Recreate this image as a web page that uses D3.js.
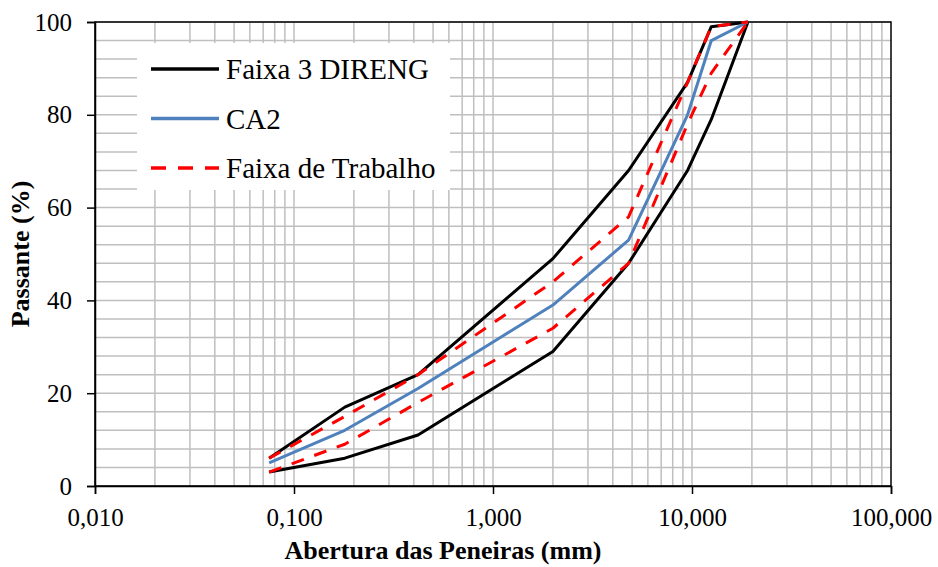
<!DOCTYPE html>
<html>
<head>
<meta charset="utf-8">
<script src="https://cdn.jsdelivr.net/npm/d3@7"></script>
<style>
  html, body { margin: 0; padding: 0; background: #fff; }
  svg { display: block; }
  text { font-family: "Liberation Serif", "Times New Roman", serif; fill: #000; }
</style>
</head>
<body>
<svg id="chart" width="938" height="567"></svg>
<script>
// Sieve openings (mm) and percent passing for each gradation curve
const sieves = [0.075, 0.18, 0.42, 2.0, 4.8, 9.5, 12.5, 19.1];
const direngUpper = [6, 17, 24, 49, 68, 87, 99, 100];
const direngLower = [3, 6, 11, 29, 48, 68, 79, 100];
const ca2 = [5, 12, 21, 39, 53, 80, 96, 100];
const trabalhoUpper = [6, 15, 24, 44, 58, 87, 99, 100];
const trabalhoLower = [3, 9, 18, 34, 48, 78, 89, 100];

const xTicks = [0.01, 0.1, 1, 10, 100];
const yTicks = [0, 20, 40, 60, 80, 100];
const legendLabels = ["Faixa 3 DIRENG", "CA2", "Faixa de Trabalho"];

const svg = d3.select("#chart");
const plotL = 95, plotR = 891, plotT = 22, plotB = 486;

const x = d3.scaleLog().domain([0.01, 100]).range([plotL, plotR]);
const y = d3.scaleLinear().domain([0, 100]).range([plotB, plotT]);

const ptLocale = d3.formatLocale({ decimal: ",", thousands: ".", grouping: [3], currency: ["", ""] });
const fmt = ptLocale.format(".3f");

// Grid: every log sub-division vertically, every 4 % horizontally
const gridX = [];
for (let e = -2; e < 2; e++) {
  for (let m = 1; m <= 9; m++) gridX.push(m * Math.pow(10, e));
}
const gridY = d3.range(0, 101, 4);

const grid = svg.append("g").attr("stroke", "#bfbfbf").attr("stroke-width", 1.5);
grid.selectAll("line.gx").data(gridX).join("line")
  .attr("x1", d => x(d)).attr("x2", d => x(d))
  .attr("y1", plotT).attr("y2", plotB);
grid.selectAll("line.gy").data(gridY).join("line")
  .attr("x1", plotL).attr("x2", plotR)
  .attr("y1", d => y(d)).attr("y2", d => y(d));

// Legend background sits over the grid
svg.append("rect")
  .attr("x", 137).attr("y", 43).attr("width", 313).attr("height", 147)
  .attr("fill", "#fff");

// Plot frame
svg.append("rect")
  .attr("x", plotL).attr("y", plotT)
  .attr("width", plotR - plotL).attr("height", plotB - plotT)
  .attr("fill", "none").attr("stroke", "#000").attr("stroke-width", 1.5);

// Axes
const xAxis = d3.axisBottom(x).tickValues(xTicks).tickFormat(fmt).tickSize(8).tickPadding(14);
const gx = svg.append("g").attr("transform", `translate(0,${plotB})`).call(xAxis);
gx.select(".domain").attr("stroke", "#000").attr("stroke-width", 1.5);
gx.selectAll(".tick line").attr("stroke", "#000").attr("stroke-width", 1.5);
gx.selectAll(".tick text")
  .attr("font-family", "Liberation Serif, Times New Roman, serif")
  .attr("font-size", 25).attr("fill", "#000");

const yAxis = d3.axisLeft(y).tickValues(yTicks).tickFormat(d3.format("d")).tickSize(8).tickPadding(15);
const gy = svg.append("g").attr("transform", `translate(${plotL},0)`).call(yAxis);
gy.select(".domain").attr("stroke", "#000").attr("stroke-width", 1.5);
gy.selectAll(".tick line").attr("stroke", "#000").attr("stroke-width", 1.5);
gy.selectAll(".tick text")
  .attr("font-family", "Liberation Serif, Times New Roman, serif")
  .attr("font-size", 25).attr("fill", "#000");

// Axis titles
svg.append("text")
  .attr("x", 443).attr("y", 559)
  .attr("text-anchor", "middle")
  .attr("font-size", 26).attr("font-weight", "bold")
  .text("Abertura das Peneiras (mm)");

svg.append("text")
  .attr("transform", `translate(29,${(plotT + plotB) / 2}) rotate(-90)`)
  .attr("text-anchor", "middle")
  .attr("font-size", 26).attr("font-weight", "bold")
  .text("Passante (%)");

// Curves
const line = d3.line().x(d => x(d[0])).y(d => y(d[1]));
const pairs = vals => sieves.map((s, i) => [s, vals[i]]);

const series = [
  { values: direngUpper, color: "#000000", dash: null },
  { values: direngLower, color: "#000000", dash: null },
  { values: ca2, color: "#4f81bd", dash: null },
  { values: trabalhoUpper, color: "#ff0000", dash: "13,11" },
  { values: trabalhoLower, color: "#ff0000", dash: "13,11" }
];

svg.append("g").selectAll("path").data(series).join("path")
  .attr("d", d => line(pairs(d.values)))
  .attr("fill", "none")
  .attr("stroke", d => d.color)
  .attr("stroke-width", 3)
  .attr("stroke-linejoin", "round")
  .attr("stroke-dasharray", d => d.dash);

// Legend entries
const legendItems = [
  { label: legendLabels[0], color: "#000000", dash: null },
  { label: legendLabels[1], color: "#4f81bd", dash: null },
  { label: legendLabels[2], color: "#ff0000", dash: "15,12" }
];
const lg = svg.append("g").selectAll("g").data(legendItems).join("g")
  .attr("transform", (d, i) => `translate(0,${69 + i * 49.5})`);
lg.append("line")
  .attr("x1", 151).attr("x2", 219).attr("y1", 0).attr("y2", 0)
  .attr("stroke", d => d.color).attr("stroke-width", 3.5)
  .attr("stroke-dasharray", d => d.dash);
lg.append("text")
  .attr("x", 226).attr("y", 10)
  .attr("font-size", 29)
  .text(d => d.label);
</script>
</body>
</html>
